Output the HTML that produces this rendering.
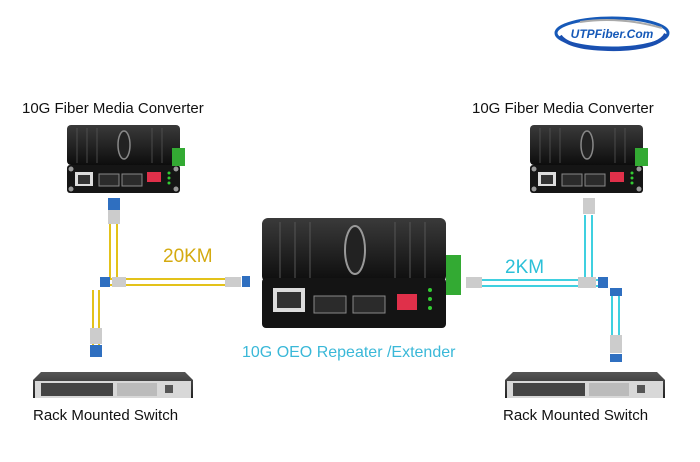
<!DOCTYPE html>
<html><head><style>
body{margin:0;background:#fff;width:700px;height:462px;overflow:hidden}
svg{display:block}
text{font-family:"Liberation Sans",Arial,sans-serif}
</style></head><body>
<svg width="700" height="462" viewBox="0 0 700 462">
<defs>
<linearGradient id="bk" x1="0" y1="0" x2="0" y2="1"><stop offset="0" stop-color="#3a3a3a"/><stop offset="1" stop-color="#0d0d0d"/></linearGradient>
<linearGradient id="sw" x1="0" y1="0" x2="0" y2="1"><stop offset="0" stop-color="#555"/><stop offset="1" stop-color="#222"/></linearGradient>
<g id="conv">
<rect x="0" y="0" width="113" height="40" rx="4" fill="url(#bk)"/>
<rect x="0" y="40" width="113" height="28" rx="3" fill="#151515"/>
<g stroke="#555" stroke-width="0.8"><line x1="10" y1="3" x2="10" y2="38"/><line x1="20" y1="3" x2="20" y2="38"/><line x1="30" y1="3" x2="30" y2="38"/><line x1="85" y1="3" x2="85" y2="38"/><line x1="95" y1="3" x2="95" y2="38"/></g>
<ellipse cx="57" cy="20" rx="6" ry="14" fill="#222" stroke="#888" stroke-width="1.5"/>
<rect x="8" y="47" width="18" height="14" fill="#ddd"/><rect x="11" y="50" width="12" height="9" fill="#333"/>
<rect x="32" y="49" width="20" height="12" fill="#2b2b2b" stroke="#888"/>
<rect x="55" y="49" width="20" height="12" fill="#2b2b2b" stroke="#888"/>
<rect x="80" y="47" width="14" height="10" fill="#e0304a"/>
<circle cx="102" cy="48" r="1.5" fill="#3c3"/><circle cx="102" cy="53" r="1.5" fill="#3c3"/><circle cx="102" cy="58" r="1.5" fill="#3c3"/>
<circle cx="4" cy="44" r="2.5" fill="#999"/><circle cx="4" cy="64" r="2.5" fill="#999"/><circle cx="109" cy="44" r="2.5" fill="#999"/><circle cx="109" cy="64" r="2.5" fill="#999"/>
</g>
<g id="swi">
<path d="M8 0 H152 L160 8 V26 H0 V8 Z" fill="url(#sw)"/>
<rect x="2" y="9" width="156" height="17" fill="#d8d8d8"/>
<rect x="8" y="11" width="72" height="13" fill="#444"/>
<rect x="84" y="11" width="40" height="13" fill="#bbb"/>
<rect x="132" y="13" width="8" height="8" fill="#555"/>
</g>
</defs>

<!-- logo -->
<ellipse cx="612" cy="33" rx="56" ry="15" fill="#fff" stroke="#1659b8" stroke-width="3"/>
<path d="M560 36 Q570 50 620 49 Q660 47 666 34" fill="none" stroke="#1a4fb0" stroke-width="4"/>
<path d="M580 22 Q620 16 662 28" fill="none" stroke="#aaa" stroke-width="2"/>
<text x="612" y="38" text-anchor="middle" font-size="12" font-weight="bold" font-style="italic" fill="#1659b8">UTPFiber.Com</text>

<text x="22" y="113" font-size="15" fill="#111">10G Fiber Media Converter</text>
<text x="472" y="113" font-size="15" fill="#111">10G Fiber Media Converter</text>

<use href="#conv" x="67" y="125"/>
<rect x="172" y="148" width="13" height="18" fill="#3a3"/>
<use href="#conv" x="530" y="125"/>
<rect x="635" y="148" width="13" height="18" fill="#3a3"/>

<!-- repeater -->
<rect x="262" y="218" width="184" height="64" rx="6" fill="url(#bk)"/>
<g stroke="#555" stroke-width="1"><line x1="280" y1="222" x2="280" y2="280"/><line x1="295" y1="222" x2="295" y2="280"/><line x1="310" y1="222" x2="310" y2="280"/><line x1="395" y1="222" x2="395" y2="280"/><line x1="410" y1="222" x2="410" y2="280"/><line x1="425" y1="222" x2="425" y2="280"/></g>
<ellipse cx="355" cy="250" rx="10" ry="24" fill="#222" stroke="#999" stroke-width="2"/>
<rect x="262" y="278" width="184" height="50" rx="4" fill="#141414"/>
<rect x="273" y="288" width="32" height="24" fill="#ddd"/><rect x="277" y="292" width="24" height="16" fill="#333"/>
<rect x="314" y="296" width="32" height="17" fill="#2b2b2b" stroke="#888"/>
<rect x="353" y="296" width="32" height="17" fill="#2b2b2b" stroke="#888"/>
<rect x="397" y="294" width="20" height="16" fill="#e0304a"/>
<circle cx="430" cy="290" r="2" fill="#3c3"/><circle cx="430" cy="299" r="2" fill="#3c3"/><circle cx="430" cy="308" r="2" fill="#3c3"/>
<rect x="446" y="255" width="15" height="40" fill="#3a3"/>

<!-- left fibers yellow -->
<g stroke="#e3c21a" stroke-width="2" fill="none">
<line x1="110" y1="210" x2="110" y2="280"/><line x1="117" y1="210" x2="117" y2="280"/>
<line x1="108" y1="279" x2="240" y2="279"/><line x1="108" y1="285" x2="240" y2="285"/>
<line x1="93" y1="290" x2="93" y2="350"/><line x1="99" y1="290" x2="99" y2="350"/>
</g>
<g fill="#2f6fc0">
<rect x="108" y="198" width="12" height="12"/><rect x="100" y="277" width="10" height="10"/><rect x="242" y="276" width="8" height="11"/>
<rect x="90" y="345" width="12" height="12"/>
</g>
<g fill="#ccc"><rect x="108" y="210" width="12" height="14"/><rect x="112" y="277" width="14" height="10"/><rect x="225" y="277" width="16" height="10"/><rect x="90" y="328" width="12" height="16"/></g>

<!-- right fibers cyan -->
<g stroke="#3fd0e0" stroke-width="2" fill="none">
<line x1="585" y1="215" x2="585" y2="280"/><line x1="592" y1="215" x2="592" y2="280"/>
<line x1="475" y1="280" x2="605" y2="280"/><line x1="475" y1="286" x2="605" y2="286"/>
<line x1="612" y1="292" x2="612" y2="350"/><line x1="619" y1="292" x2="619" y2="350"/>
</g>
<g fill="#ccc"><rect x="583" y="198" width="12" height="16"/><rect x="466" y="277" width="16" height="11"/><rect x="578" y="277" width="18" height="11"/><rect x="610" y="335" width="12" height="18"/></g>
<g fill="#2f6fc0"><rect x="598" y="277" width="10" height="11"/><rect x="610" y="288" width="12" height="8"/><rect x="610" y="354" width="12" height="8"/></g>

<text x="163" y="262" font-size="19" fill="#d4aa10">20KM</text>
<text x="505" y="273" font-size="19" fill="#2cc0d8">2KM</text>
<text x="242" y="357" font-size="16" fill="#3ab8d8">10G OEO Repeater /Extender</text>

<use href="#swi" x="33" y="372"/>
<use href="#swi" x="505" y="372"/>
<text x="33" y="420" font-size="15" fill="#111">Rack Mounted Switch</text>
<text x="503" y="420" font-size="15" fill="#111">Rack Mounted Switch</text>
</svg>
</body></html>
